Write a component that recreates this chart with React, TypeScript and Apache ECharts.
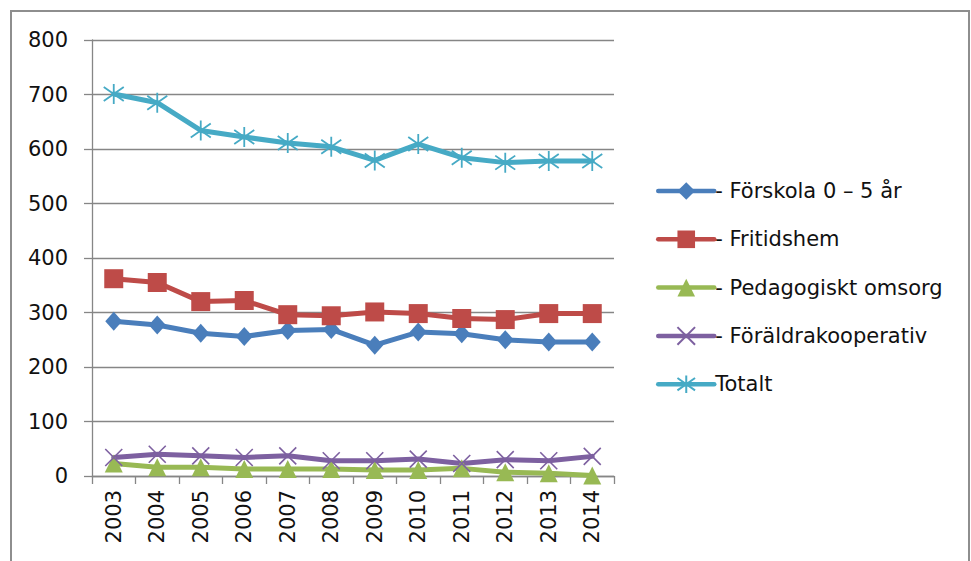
import React, { useEffect, useRef } from "react";
import * as echarts from "echarts";

const years = ["2003", "2004", "2005", "2006", "2007", "2008", "2009", "2010", "2011", "2012", "2013", "2014"];
const forskola = [284, 277, 262, 256, 267, 269, 240, 264, 261, 250, 246, 246];
const fritidshem = [362, 355, 320, 322, 296, 294, 301, 298, 289, 287, 298, 298];
const pedagogiskt = [23, 16, 16, 13, 13, 13, 11, 11, 14, 7, 5, 1];
const foraldra = [34, 40, 37, 34, 37, 28, 28, 31, 23, 30, 28, 36];
const totalt = [701, 685, 634, 622, 611, 604, 579, 609, 584, 575, 578, 578];
const seriesNames = ["- Förskola 0 – 5 år", "- Fritidshem", "- Pedagogiskt omsorg", "- Föräldrakooperativ", "Totalt"];
const yTicks = { min: 0, max: 800, interval: 100 };

const FONT = "'DejaVu Sans', sans-serif";

export default function App() {
  const ref = useRef<HTMLDivElement>(null);
  useEffect(() => {
    if (!ref.current) return;
    const chart = echarts.init(ref.current, null, { renderer: "svg" });
    const mk = (name: string, data: number[], color: string, symbol: string, size: any, extra: any = {}) => ({
      name,
      type: "line",
      data,
      symbol,
      symbolSize: size,
      showSymbol: true,
      lineStyle: { color, width: 5, cap: "round", join: "round" },
      itemStyle: { color, borderColor: color, borderWidth: 0, ...extra },
      z: 2,
    });
    chart.setOption({
      animation: false,
      backgroundColor: "#ffffff",
      textStyle: { fontFamily: FONT },
      graphic: [
        {
          type: "rect",
          shape: { x: 11, y: 11, width: 958, height: 570 },
          style: { fill: "none", stroke: "#8e8e8e", lineWidth: 2 },
          silent: true,
        },
      ],
      grid: { left: 92, top: 40, right: 357, bottom: 85 },
      legend: {
        orient: "vertical",
        left: 651,
        top: 175,
        itemWidth: 56,
        itemHeight: 22,
        itemGap: 26.3,
        data: seriesNames,
        lineStyle: { width: 4.5 },
        textStyle: { fontSize: 21, color: "#111111", fontFamily: FONT, lineHeight: 22, padding: [0, 0, 0, -4] },
      },
      xAxis: {
        type: "category",
        data: years,
        boundaryGap: true,
        axisLine: { lineStyle: { color: "#868686", width: 1.3 } },
        axisTick: { show: true, length: 8, lineStyle: { color: "#868686", width: 1.3 } },
        axisLabel: { rotate: 90, fontSize: 21, color: "#111111", margin: 14, fontFamily: FONT },
      },
      yAxis: {
        type: "value",
        min: yTicks.min,
        max: yTicks.max,
        interval: yTicks.interval,
        axisLine: { show: true, lineStyle: { color: "#868686", width: 1.3 } },
        axisTick: { show: true, length: 8, lineStyle: { color: "#868686", width: 1.3 } },
        axisLabel: { fontSize: 21, color: "#111111", margin: 24, fontFamily: FONT },
        splitLine: { lineStyle: { color: "#868686", width: 1.3 } },
      },
      series: [
        mk(seriesNames[0], forskola, "#4a7ebb", "diamond", [17, 19]),
        mk(seriesNames[1], fritidshem, "#be4b48", "rect", 19),
        mk(seriesNames[2], pedagogiskt, "#98b954", "triangle", 18),
        mk(seriesNames[3], foraldra, "#7d60a0", "path://M0,0L10,10M10,0L0,10", 17, { borderWidth: 1.6 }),
        mk(seriesNames[4], totalt, "#46aac5", "path://M5,0L5,10M0,1.5L10,8.5M10,1.5L0,8.5", 20, { borderWidth: 1.8 }),
      ],
    });
    return () => chart.dispose();
  }, []);
  return <div ref={ref} style={{ position: "fixed", left: 0, top: 0, width: 971, height: 561 }} />;
}
